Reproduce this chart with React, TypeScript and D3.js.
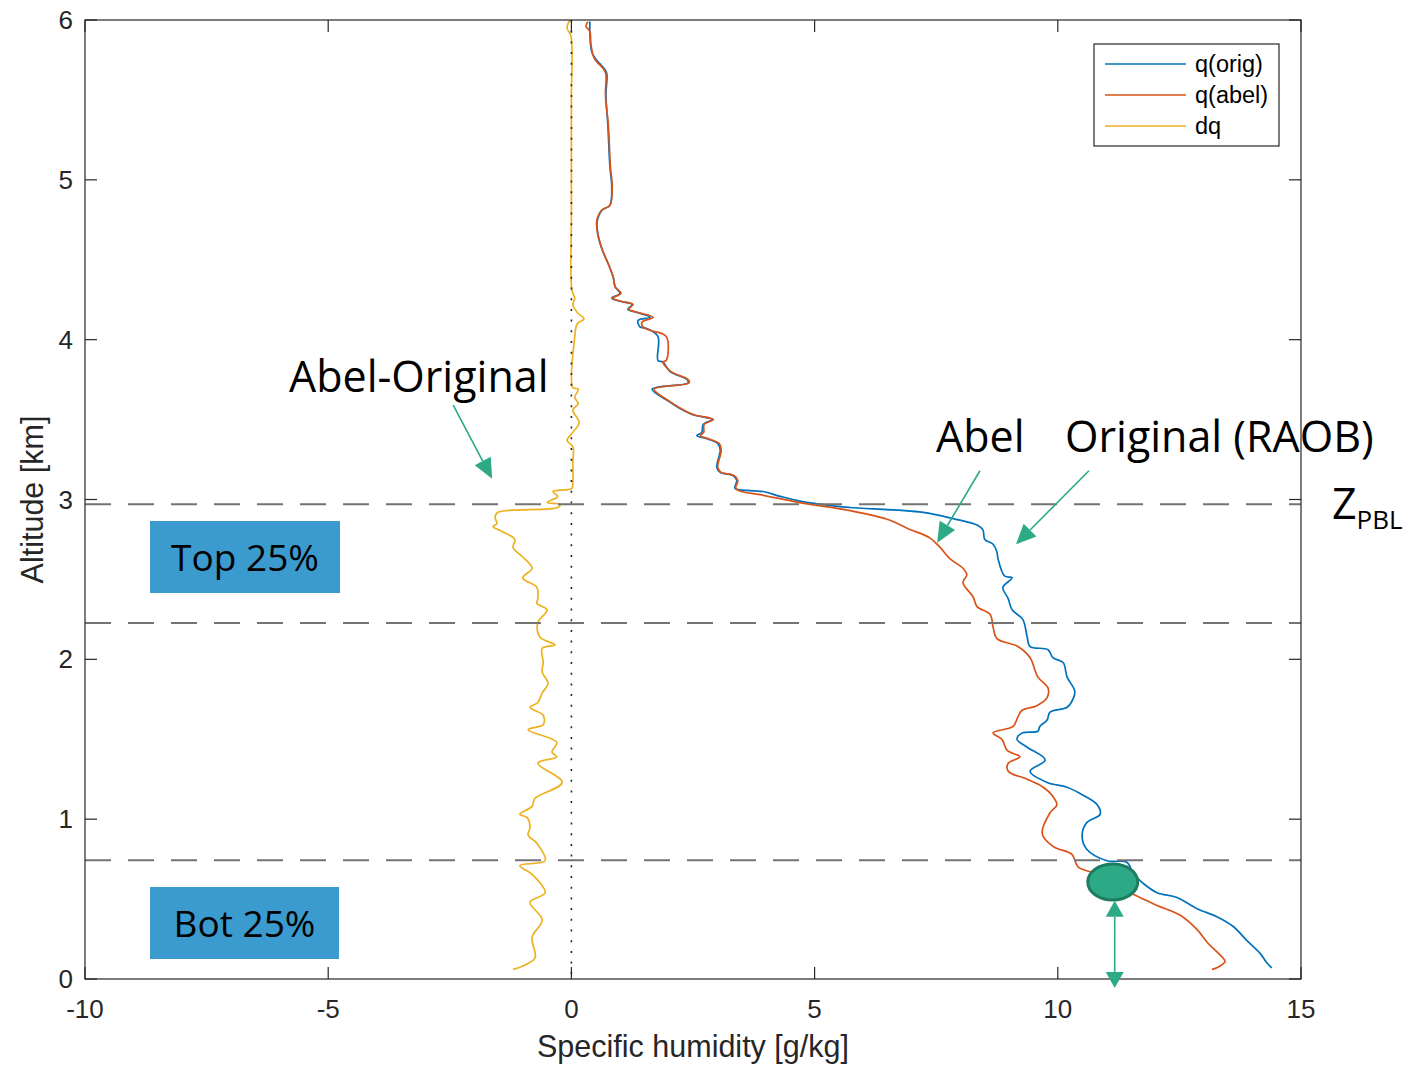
import React from 'react';
import * as d3 from 'd3';

// Specific humidity profiles: [q (g/kg), altitude (km)]
const qOrig: [number, number][] = [
  [0.38, 5.99], [0.38, 5.91], [0.42, 5.8], [0.49, 5.76], [0.69, 5.69], [0.73, 5.66], [0.71, 5.53],
  [0.75, 5.34], [0.79, 5.09], [0.83, 4.95], [0.79, 4.84], [0.63, 4.81], [0.53, 4.74], [0.55, 4.65],
  [0.65, 4.55], [0.75, 4.48], [0.86, 4.39], [0.9, 4.33], [1.0, 4.29], [0.83, 4.26], [1.0, 4.24],
  [1.25, 4.22], [1.16, 4.19], [1.35, 4.17], [1.62, 4.14], [1.37, 4.12], [1.41, 4.08], [1.55, 4.07],
  [1.78, 4.02], [1.78, 3.87], [1.88, 3.86], [2.03, 3.8], [2.38, 3.75], [2.4, 3.73], [1.66, 3.69],
  [1.97, 3.62], [2.23, 3.57], [2.5, 3.53], [2.89, 3.5], [2.71, 3.47], [2.68, 3.42], [2.58, 3.4],
  [2.79, 3.38], [3.01, 3.35], [3.06, 3.31], [2.99, 3.2], [3.06, 3.17], [3.32, 3.15], [3.4, 3.12],
  [3.36, 3.07], [3.47, 3.06], [3.94, 3.05], [4.29, 3.02], [4.7, 2.99], [5.38, 2.96], [5.73, 2.95],
  [7.23, 2.92], [7.85, 2.88], [8.34, 2.84], [8.46, 2.81], [8.5, 2.75], [8.67, 2.72], [8.75, 2.67],
  [8.77, 2.63], [8.91, 2.52], [9.06, 2.51], [8.87, 2.45], [8.98, 2.38], [9.06, 2.31], [9.28, 2.25],
  [9.37, 2.14], [9.43, 2.08], [9.8, 2.06], [9.9, 2.01], [10.11, 1.98], [10.19, 1.89], [10.35, 1.8],
  [10.31, 1.75], [10.19, 1.7], [9.84, 1.67], [9.78, 1.62], [9.63, 1.58], [9.59, 1.55], [9.28, 1.54],
  [9.16, 1.5], [9.37, 1.45], [9.74, 1.37], [9.43, 1.3], [9.78, 1.23], [10.19, 1.2], [10.52, 1.15],
  [10.81, 1.09], [10.87, 1.03], [10.6, 0.98], [10.5, 0.9], [10.6, 0.81], [11.01, 0.74], [11.42, 0.73],
  [11.55, 0.66], [11.75, 0.6], [12.04, 0.54], [12.45, 0.51], [12.86, 0.44], [13.27, 0.39],
  [13.6, 0.33], [13.89, 0.24], [14.16, 0.16], [14.3, 0.1], [14.4, 0.07],
];

const qAbel: [number, number][] = [
  [0.34, 5.99], [0.3, 5.96], [0.38, 5.93], [0.4, 5.85], [0.47, 5.76], [0.67, 5.69], [0.71, 5.66],
  [0.7, 5.53], [0.76, 5.34], [0.8, 5.09], [0.84, 4.95], [0.79, 4.84], [0.62, 4.81], [0.52, 4.74],
  [0.55, 4.65], [0.65, 4.55], [0.75, 4.48], [0.86, 4.39], [0.9, 4.33], [1.02, 4.29], [0.85, 4.26],
  [1.02, 4.24], [1.27, 4.22], [1.18, 4.19], [1.37, 4.17], [1.68, 4.14], [1.45, 4.11], [1.47, 4.08],
  [1.6, 4.06], [1.95, 4.02], [1.95, 3.87], [1.88, 3.86], [2.05, 3.8], [2.4, 3.75], [2.42, 3.73],
  [1.7, 3.69], [1.99, 3.62], [2.25, 3.57], [2.52, 3.53], [2.92, 3.5], [2.73, 3.47], [2.72, 3.42],
  [2.65, 3.4], [2.82, 3.38], [3.04, 3.35], [3.08, 3.31], [3.01, 3.2], [3.08, 3.17], [3.34, 3.15],
  [3.42, 3.12], [3.38, 3.07], [3.5, 3.05], [3.88, 3.03], [4.7, 2.98], [5.73, 2.93], [6.55, 2.87],
  [6.9, 2.82], [7.37, 2.76], [7.58, 2.7], [7.78, 2.63], [8.05, 2.57], [8.13, 2.53], [8.05, 2.48],
  [8.26, 2.39], [8.34, 2.33], [8.61, 2.28], [8.67, 2.2], [8.75, 2.13], [9.18, 2.08], [9.43, 2.01],
  [9.59, 1.89], [9.8, 1.82], [9.78, 1.76], [9.57, 1.71], [9.26, 1.68], [9.18, 1.64], [9.08, 1.58],
  [8.67, 1.54], [8.85, 1.5], [8.96, 1.43], [9.22, 1.39], [8.98, 1.35], [8.98, 1.3], [9.37, 1.25],
  [9.7, 1.2], [9.88, 1.15], [9.98, 1.09], [9.84, 1.04], [9.68, 0.91], [9.9, 0.83], [10.29, 0.78],
  [10.42, 0.7], [10.77, 0.66], [11.2, 0.58], [11.69, 0.51], [12.04, 0.46], [12.51, 0.4],
  [12.86, 0.31], [13.07, 0.23], [13.4, 0.13], [13.44, 0.11], [13.27, 0.07], [13.17, 0.06],
];

const dq: [number, number][] = [
  [-0.03, 6.0], [-0.09, 5.95], [-0.01, 5.9], [0.0, 5.5], [0.0, 4.8], [0.01, 4.31], [0.07, 4.26],
  [0.03, 4.22], [0.12, 4.17], [0.26, 4.13], [0.12, 4.1], [0.07, 4.02], [0.03, 3.7], [0.14, 3.69],
  [0.07, 3.64], [0.14, 3.6], [0.03, 3.56], [0.16, 3.48], [0.03, 3.42], [-0.09, 3.37], [0.03, 3.33],
  [0.03, 3.23], [0.03, 3.1], [0.01, 3.07], [-0.38, 3.05], [-0.28, 3.02], [-0.5, 2.98], [-0.23, 2.97],
  [-0.28, 2.95], [-1.51, 2.92], [-1.57, 2.89], [-1.53, 2.85], [-1.61, 2.83], [-1.43, 2.8],
  [-1.16, 2.75], [-1.2, 2.7], [-1.0, 2.64], [-0.81, 2.57], [-1.0, 2.51], [-0.71, 2.45], [-0.69, 2.38],
  [-0.71, 2.35], [-0.5, 2.31], [-0.69, 2.23], [-0.65, 2.14], [-0.34, 2.09], [-0.6, 2.07],
  [-0.58, 1.98], [-0.6, 1.92], [-0.48, 1.85], [-0.6, 1.79], [-0.69, 1.73], [-0.85, 1.7],
  [-0.58, 1.65], [-0.58, 1.59], [-0.89, 1.56], [-0.3, 1.48], [-0.4, 1.42], [-0.3, 1.39],
  [-0.69, 1.35], [-0.19, 1.23], [-0.75, 1.13], [-0.81, 1.08], [-1.06, 1.03], [-0.91, 1.01],
  [-0.85, 0.95], [-0.89, 0.9], [-0.71, 0.85], [-0.54, 0.74], [-1.06, 0.71], [-0.79, 0.65],
  [-0.54, 0.54], [-0.85, 0.48], [-0.6, 0.37], [-0.81, 0.26], [-0.75, 0.13], [-1.2, 0.06],
];

const X_TICKS = [-10, -5, 0, 5, 10, 15];
const Y_TICKS = [0, 1, 2, 3, 4, 5, 6];
const SERIES_NAMES = ['q(orig)', 'q(abel)', 'dq'];
const SERIES_COLORS = ['#0072BD', '#D95319', '#EDB120'];

// Boundary-layer top and the 75% / 25% levels below it (km)
const Z_PBL = 2.97;
const LEVELS = [Z_PBL, 0.75 * Z_PBL, 0.25 * Z_PBL];

const AXIS_FONT = '"Liberation Sans", Arial, sans-serif';
const NOTE_FONT = '"Open Sans", "Noto Sans", sans-serif';
const GREEN = '#2BAA85';
const AX = '#262626';

function Arrow({ x1, y1, x2, y2, head = 20, half = 9, width = 1.6 }: any) {
  const dx = x2 - x1, dy = y2 - y1;
  const len = Math.hypot(dx, dy);
  const ux = dx / len, uy = dy / len;
  const bx = x2 - ux * head, by = y2 - uy * head;
  const pts = [
    [x2, y2],
    [bx - uy * half, by + ux * half],
    [bx + uy * half, by - ux * half],
  ];
  return (
    <g>
      <line x1={x1} y1={y1} x2={bx} y2={by} stroke={GREEN} strokeWidth={width} />
      <polygon points={pts.map((p) => p.join(',')).join(' ')} fill={GREEN} />
    </g>
  );
}

export default function App() {
  const x = d3.scaleLinear().domain([-10, 15]).range([85, 1301]);
  const y = d3.scaleLinear().domain([0, 6]).range([979, 20]);
  const line = d3
    .line<[number, number]>()
    .x((d) => x(d[0]))
    .y((d) => y(d[1]))
    .curve(d3.curveCatmullRom.alpha(0.5));
  const [x0, x1] = x.range();
  const [yb, yt] = y.range();
  const series = [qOrig, qAbel, dq];

  return (
    <svg width={1406} height={1065} style={{ position: 'absolute', left: 0, top: 0, background: '#fff' }}>
      <rect x={0} y={0} width={1406} height={1065} fill="#fff" />

      {/* profiles */}
      {series.map((s, i) => (
        <path key={i} d={line(s) || ''} fill="none" stroke={SERIES_COLORS[i]} strokeWidth={1.7} strokeLinejoin="round" />
      ))}

      {/* zero line */}
      <line x1={x(0)} x2={x(0)} y1={yt} y2={yb} stroke={AX} strokeWidth={1.6} strokeDasharray="2 8.7" />

      {/* PBL levels */}
      {LEVELS.map((h, i) => (
        <line key={i} x1={x0} x2={x1} y1={y(h)} y2={y(h)} stroke="#737373" strokeWidth={2} strokeDasharray="26 17" />
      ))}

      {/* axes box and ticks */}
      <rect x={x0} y={yt} width={x1 - x0} height={yb - yt} fill="none" stroke={AX} strokeWidth={1.2} />
      {X_TICKS.map((t) => (
        <g key={'x' + t}>
          <line x1={x(t)} x2={x(t)} y1={yb} y2={yb - 12} stroke={AX} strokeWidth={1.2} />
          <line x1={x(t)} x2={x(t)} y1={yt} y2={yt + 12} stroke={AX} strokeWidth={1.2} />
          <text x={x(t)} y={1018} textAnchor="middle" fontFamily={AXIS_FONT} fontSize={26} fill={AX}>
            {t}
          </text>
        </g>
      ))}
      {Y_TICKS.map((t) => (
        <g key={'y' + t}>
          <line x1={x0} x2={x0 + 12} y1={y(t)} y2={y(t)} stroke={AX} strokeWidth={1.2} />
          <line x1={x1} x2={x1 - 12} y1={y(t)} y2={y(t)} stroke={AX} strokeWidth={1.2} />
          <text x={73} y={y(t) + 9} textAnchor="end" fontFamily={AXIS_FONT} fontSize={26} fill={AX}>
            {t}
          </text>
        </g>
      ))}
      <text x={(x0 + x1) / 2} y={1057} textAnchor="middle" fontFamily={AXIS_FONT} fontSize={30.5} fill={AX}>
        Specific humidity [g/kg]
      </text>
      <text
        transform={`translate(43, ${(yt + yb) / 2}) rotate(-90)`}
        textAnchor="middle"
        fontFamily={AXIS_FONT}
        fontSize={30.5}
        fill={AX}
      >
        Altitude [km]
      </text>

      {/* legend */}
      <g>
        <rect x={1094} y={44} width={185} height={102} fill="#fff" stroke={AX} strokeWidth={1.2} />
        {SERIES_NAMES.map((n, i) => (
          <g key={n}>
            <line x1={1105} x2={1186} y1={64 + i * 31} y2={64 + i * 31} stroke={SERIES_COLORS[i]} strokeWidth={1.5} />
            <text x={1195} y={72 + i * 31} fontFamily={AXIS_FONT} fontSize={23.5} fill="#000">
              {n}
            </text>
          </g>
        ))}
      </g>

      {/* annotations */}
      <text x={289} y={y(3.67)} fontFamily={NOTE_FONT} fontSize={43} fill="#000">
        Abel-Original
      </text>
      <Arrow x1={x(-2.43)} y1={y(3.59)} x2={x(-1.63)} y2={y(3.13)} />

      <text x={936} y={y(3.3)} fontFamily={NOTE_FONT} fontSize={43} fill="#000">
        Abel
      </text>
      <text x={1065} y={y(3.3)} fontFamily={NOTE_FONT} fontSize={43} fill="#000">
        Original (RAOB)
      </text>
      <Arrow x1={x(8.4)} y1={y(3.18)} x2={x(7.52)} y2={y(2.73)} />
      <Arrow x1={x(10.64)} y1={y(3.18)} x2={x(9.14)} y2={y(2.72)} />

      <text x={1332} y={y(Z_PBL) + 15} fontFamily={NOTE_FONT} fontSize={43} fill="#000">
        Z
        <tspan fontSize={26} dy={10}>PBL</tspan>
      </text>

      <rect x={150} y={521} width={190} height={72} fill="#3B9BCF" />
      <text x={245} y={571} textAnchor="middle" fontFamily={NOTE_FONT} fontSize={37} fill="#000">
        Top 25%
      </text>
      <rect x={150} y={887} width={189} height={72} fill="#3B9BCF" />
      <text x={244.5} y={937} textAnchor="middle" fontFamily={NOTE_FONT} fontSize={37} fill="#000">
        Bot 25%
      </text>

      <ellipse cx={x(11.13)} cy={y(0.607)} rx={25} ry={18} fill={GREEN} stroke="#1E7C60" strokeWidth={3} />
      <Arrow x1={x(11.17)} y1={y(0.27)} x2={x(11.17)} y2={y(0.49)} head={16} half={9} />
      <Arrow x1={x(11.17)} y1={y(0.27)} x2={x(11.17)} y2={y(-0.056)} head={16} half={9} />
    </svg>
  );
}
